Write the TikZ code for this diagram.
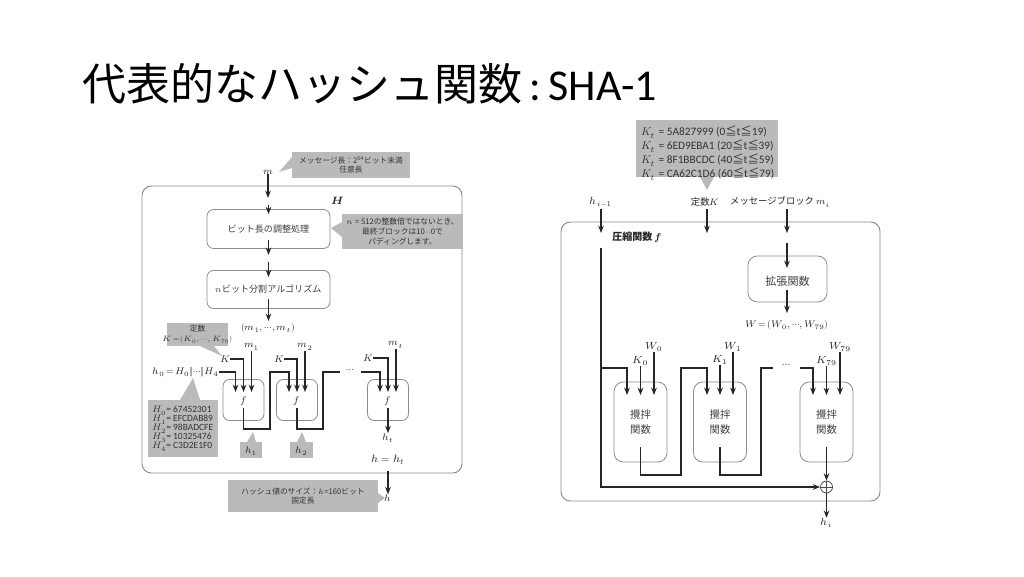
\documentclass[tikz,border=0pt]{standalone}
\usepackage{fontspec}
\usepackage{unicode-math}
\setmathfont{Latin Modern Math}
\setmainfont{Carlito}
\newfontfamily\jp{Noto Sans CJK JP}
\newcommand\cdt{{\cdots}}
\usetikzlibrary{arrows.meta,calc}
\begin{document}
\begin{tikzpicture}[x=0.75pt,y=-0.75pt,
  lbl/.style={inner sep=0pt, text=black!85, font=\fontsize{7.2}{8}\selectfont},
  rlbl/.style={inner sep=0pt, text=black!85, font=\fontsize{7.8}{9}\selectfont},
  jtxt/.style={inner sep=0pt, align=center, text=black!75, font=\jp\fontsize{6.8}{8}\selectfont},
  ctxt/.style={inner sep=0pt, align=center, text=black!80, font=\jp\fontsize{5.8}{7.2}\selectfont},
  rbox/.style={draw=black!45, rounded corners=5pt, line width=0.6pt, inner sep=0pt},
  frame/.style={draw=black!45, rounded corners=7pt, line width=0.7pt},
  arr/.style={-{Stealth[length=5.5pt,width=4.2pt]}, line width=0.95pt, draw=black!85},
  ln/.style={line width=0.95pt, draw=black!85},
  co/.style={fill=black!27}]
\useasboundingbox (0,0) rectangle (1024,576);
\fill[white] (0,0) rectangle (1024,576);

% title
\node[anchor=base west, inner sep=0pt] (title) at (82,100)
  {{\jp\fontsize{33}{33}\selectfont 代表的なハッシュ関数}{\fontsize{33}{33}\selectfont \,:\,SHA-1}};

% ================= LEFT =================
\draw[frame] (142,186) rectangle (462,473);
\node[lbl, font=\fontsize{8}{9}\selectfont] (Hlab) at (338,201) {$\symbfit{H}$};

% callout: message length
\fill[co] (292,152) rectangle (410,178);
\fill[co] (292,157) -- (279,172) -- (292,168) -- cycle;
\node[ctxt] (cmsg) at (351,165) {メッセージ長：2\textsuperscript{64}ビット未満\\任意長};

\node[lbl] (m) at (268,172) {$m$};
\coordinate (mtip) at (268,198);
\draw[arr] (m.south) -- (mtip);

\node[rbox, minimum width=123*0.75pt, minimum height=39*0.75pt] (b1) at (268.5,229) {};
\node[jtxt] (b1t) at (b1.center) {ビット長の調整処理};
\draw[arr] ($(b1.north)+(0,-4)$) -- ($(b1.north)+(0,5)$);

% callout: padding
\fill[co] (342,214) rectangle (463,249);
\fill[co] (342,222) -- (331,228) -- (342,237) -- cycle;
\node[ctxt] (cpad) at (402.5,231.5) {$n$ = 512の整数倍ではないとき、\\最終ブロックは10$\cdt$0で\\パディングします。};

\draw[arr] ($(b1.south)+(0,-9)$) -- ($(b1.south)+(0,6)$);

\node[rbox, minimum width=123*0.75pt, minimum height=38*0.75pt] (b2) at (268.5,289.5) {};
\node[jtxt] (b2t) at (b2.center) {$n$ビット分割アルゴリズム};
\draw[arr] ($(b2.north)+(0,-8)$) -- ($(b2.north)+(0,7)$);
\draw[arr] ($(b2.south)+(0,-10)$) -- ($(b2.south)+(0,12)$);
\node[lbl] (mseq) at (268,328) {$(m_1,\cdt,m_t)$};

% callout: constant K
\fill[co] (167,323) rectangle (228,346);
\fill[co] (200,346) -- (222,356) -- (214,346) -- cycle;
\node[ctxt] (cK) at (197.5,334.5) {定数\\$K\,{=}\,(K_0,\cdt,K_{79})$};

% callout: H values
\fill[co] (148,400) rectangle (218,457);
\fill[co] (180,400) -- (193,378) -- (200,400) -- cycle;
\node[inner sep=0pt, anchor=north west, align=left, text=black!80, font=\fontsize{7.1}{6.75}\selectfont] (cH) at (152,406)
  {$H_0$= 67452301\\$H_1$= EFCDAB89\\$H_2$= 98BADCFE\\$H_3$= 10325476\\$H_4$= C3D2E1F0};

% f boxes
\node[rbox, minimum width=41*0.75pt, minimum height=41*0.75pt] (f1) at (243.5,400) {};
\node[rbox, minimum width=41*0.75pt, minimum height=41*0.75pt] (f2) at (297,400) {};
\node[rbox, minimum width=41*0.75pt, minimum height=41*0.75pt] (f3) at (388,400) {};
\node[lbl] (f1t) at (243.5,401) {$f$};
\node[lbl] (f2t) at (297,401) {$f$};
\node[lbl] (f3t) at (388,401) {$f$};

\node[lbl, anchor=east] (h0) at (219,372) {$h_0\,{=}\,H_0\|\cdt\|H_4$};
\node[lbl] (K1) at (225,359) {$K$};
\node[lbl] (K2) at (279,359) {$K$};
\node[lbl] (K3) at (368,358) {$K$};
\node[lbl] (m1) at (251.5,347) {$m_1$};
\node[lbl] (m2) at (305,347) {$m_2$};
\node[lbl] (mt) at (396,345) {$m_t$};

\draw[arr] (h0.east) -- (235.5,372) -- (235.5,392);
\draw[arr] (K1.east) -- (243.5,359) -- (243.5,392);
\draw[arr] (m1.south) -- (251.5,392);
\draw[arr] (243.5,408) -- (243.5,429) -- (270,429) -- (270,372) -- (289,372) -- (289,392);
\draw[arr] (K2.east) -- (297,359) -- (297,392);
\draw[arr] (m2.south) -- (305,392);
\draw[ln] (297,408) -- (297,429) -- (323,429) -- (323,372) -- (340,372);
\node[lbl] (dots1) at (350,371) {$\cdt$};
\draw[arr] (361,372) -- (380,372) -- (380,392);
\draw[arr] (K3.east) -- (388,358) -- (388,392);
\draw[arr] (mt.south) -- (396,392);
\node[lbl] (ht) at (388,438) {$h_t$};
\draw[arr] (388,408) -- (ht.north);

% callouts h1 h2
\fill[co] (240,442) rectangle (262,458);
\fill[co] (247,442) -- (253,432) -- (256,442) -- cycle;
\node[lbl] (h1) at (251,451) {$h_1$};
\fill[co] (290,442) rectangle (313,458);
\fill[co] (297,442) -- (302,432) -- (306,442) -- cycle;
\node[lbl] (h2) at (301.5,451) {$h_2$};

\node[lbl, font=\fontsize{8}{9}\selectfont] (heq) at (388,460) {$h=h_t$};
\node[lbl] (hout) at (388,498) {$h$};
\draw[arr] (388,471) -- (hout.north);

% callout: hash size
\fill[co] (228,480) rectangle (378,512);
\fill[co] (378,493) -- (385,498) -- (378,503) -- cycle;
\node[ctxt] (chs) at (303,496) {ハッシュ値のサイズ：$k$=160ビット\\固定長};

% ================= RIGHT =================
\draw[frame] (561,222) rectangle (880,501);

% callout K_t
\fill[co] (636,120) rectangle (778,177);
\fill[co] (700,177) -- (707,190) -- (714,177) -- cycle;
\node[inner sep=0pt, anchor=north west, align=left, text=black!80, font=\fontsize{8.5}{7.1}\selectfont] (cKt) at (641,126)
  {$K_t$ = 5A827999 (0{\jp ≦}t{\jp ≦}19)\\$K_t$ = 6ED9EBA1 (20{\jp ≦}t{\jp ≦}39)\\$K_t$ = 8F1BBCDC (40{\jp ≦}t{\jp ≦}59)\\$K_t$ = CA62C1D6 (60{\jp ≦}t{\jp ≦}79)};

\node[rlbl] (hi1) at (601,202) {$h_{i-1}$};
\node[rlbl, font=\jp\fontsize{7}{8}\selectfont] (constK) at (705,202) {定数$K$};
\node[rlbl, font=\jp\fontsize{7}{8}\selectfont] (mblk) at (780,202) {メッセージブロック $m_i$};
\draw[arr] (601,209) -- (601,233);
\draw[arr] (707,209) -- (707,233);
\draw[arr] (787,209) -- (787,233);
\node[inner sep=0pt, anchor=west, text=black!85, font=\jp\bfseries\fontsize{7.5}{8}\selectfont] (cf) at (612,237) {圧縮関数 $\symbfit{f}$};

\node[rbox, minimum width=79*0.75pt, minimum height=46*0.75pt, rounded corners=7pt] (ex) at (787.5,279) {};
\node[jtxt, font=\jp\fontsize{8.3}{10}\selectfont] (ext) at (787.5,281) {拡張関数};
\draw[arr] (787,243) -- (787,268);
\draw[arr] (787,290) -- (787,313);
\node[rlbl, font=\fontsize{7.2}{8}\selectfont] (W) at (787,325) {$W\,{=}\,(W_0,\cdt,W_{79})$};

\node[rbox, minimum width=53*0.75pt, minimum height=80*0.75pt, rounded corners=7pt] (s1) at (640.5,422) {};
\node[rbox, minimum width=53*0.75pt, minimum height=80*0.75pt, rounded corners=7pt] (s2) at (720,422) {};
\node[rbox, minimum width=53*0.75pt, minimum height=80*0.75pt, rounded corners=7pt] (s3) at (826.5,422) {};
\node[jtxt, font=\jp\fontsize{7.8}{11}\selectfont] (s1t) at (640.5,422) {攪拌\\関数};
\node[jtxt, font=\jp\fontsize{7.8}{11}\selectfont] (s2t) at (720,422) {攪拌\\関数};
\node[jtxt, font=\jp\fontsize{7.8}{11}\selectfont] (s3t) at (826.5,422) {攪拌\\関数};

\node[rlbl] (K0) at (640.5,361) {$K_0$};
\node[rlbl] (W0) at (654,347) {$W_0$};
\node[rlbl] (K1r) at (720,360) {$K_1$};
\node[rlbl] (W1) at (733,347) {$W_1$};
\node[rlbl] (K79) at (826.5,361) {$K_{79}$};
\node[rlbl] (W79) at (840,347) {$W_{79}$};

\node[draw=black!70, line width=0.6pt, circle, minimum size=12*0.75pt, inner sep=0pt] (xor) at (826.5,487) {};
\draw[black!70, line width=0.6pt] (xor.north) -- (xor.south) (xor.west) -- (xor.east);

\draw[arr] (601,248) -- (601,487) -- (xor.west);
\draw[arr] (601,368) -- (627,368) -- (627,395);
\draw[arr] (K0.south) -- (640.5,395);
\draw[arr] (W0.south) -- (654,395);
\draw[arr] (640.5,447) -- (640.5,475) -- (681,475) -- (681,368) -- (707,368) -- (707,395);
\draw[arr] (K1r.south) -- (720,395);
\draw[arr] (W1.south) -- (733,395);
\draw[ln] (720,447) -- (720,475) -- (761,475) -- (761,368) -- (773,368);
\node[rlbl] (dots2) at (787,366) {$\cdt$};
\draw[arr] (800,368) -- (813,368) -- (813,395);
\draw[arr] (K79.south) -- (826.5,395);
\draw[arr] (W79.south) -- (840,395);
\draw[arr] (826.5,447) -- (xor.north);
\node[rlbl] (hi) at (826.5,523) {$h_i$};
\draw[arr] (xor.south) -- (hi.north);
\end{tikzpicture}
\end{document}
